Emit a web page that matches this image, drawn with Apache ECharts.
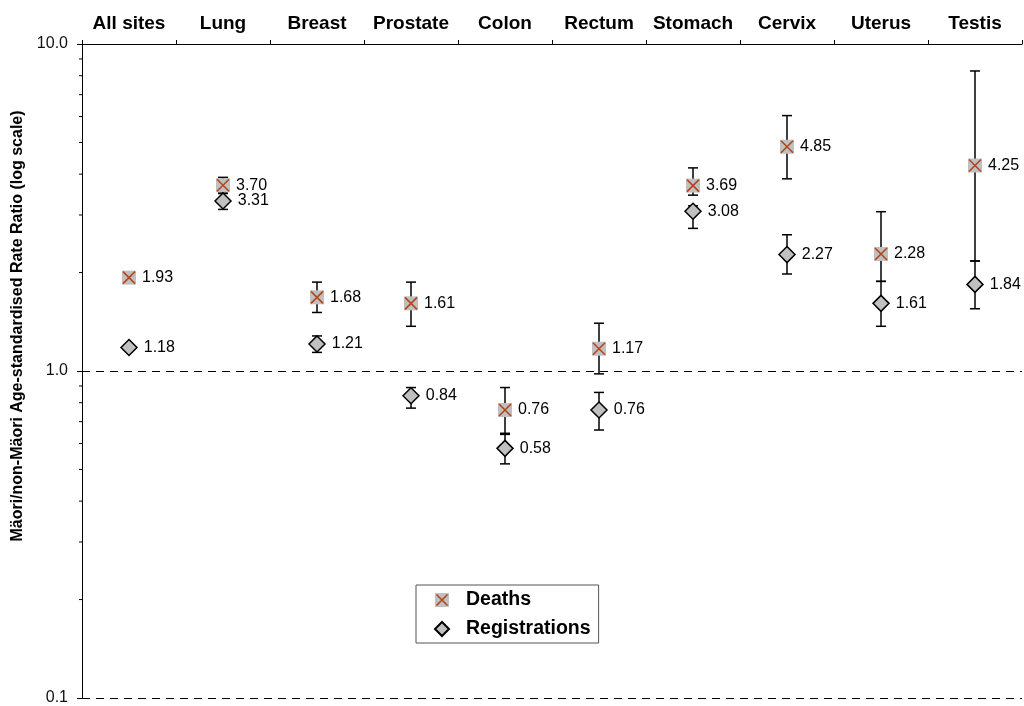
<!DOCTYPE html>
<html>
<head>
<meta charset="utf-8">
<script src="https://cdn.jsdelivr.net/npm/echarts@6/dist/echarts.min.js"></script>
<style>
  html, body { margin: 0; padding: 0; background: #fff; }
  #main { width: 1024px; height: 706px; }
</style>
</head>
<body>
<div id="main"></div>
<script>
// sites along the top axis
const categories = ['All sites', 'Lung', 'Breast', 'Prostate', 'Colon', 'Rectum', 'Stomach', 'Cervix', 'Uterus', 'Testis']
// rate ratios with 95% CI
const deaths = [1.93, 3.70, 1.68, 1.61, 0.76, 1.17, 3.69, 4.85, 2.28, 4.25]
const deathsLow = [1.89, 3.50, 1.51, 1.37, 0.645, 0.98, 3.45, 3.87, 1.88, 2.17]
const deathsHigh = [1.97, 3.91, 1.87, 1.87, 0.89, 1.40, 4.18, 6.04, 3.07, 8.27]
const regs = [1.18, 3.31, 1.21, 0.84, 0.58, 0.76, 3.08, 2.27, 1.61, 1.84]
const regsLow = [1.16, 3.12, 1.14, 0.77, 0.52, 0.66, 2.73, 1.98, 1.37, 1.55]
const regsHigh = [1.20, 3.49, 1.28, 0.89, 0.64, 0.86, 3.20, 2.61, 1.88, 2.17]
// log axis minor ticks
const minorTicks = [0.2, 0.3, 0.4, 0.5, 0.6, 0.7, 0.8, 0.9, 2, 3, 4, 5, 6, 7, 8, 9]

const font = "'Liberation Sans', Arial, sans-serif"
const grey = '#c0c0c0'
const rust = '#b4461e'

const deathsIcon = 'image://data:image/svg+xml;charset=utf-8,' + encodeURIComponent(
  '<svg xmlns="http://www.w3.org/2000/svg" width="14" height="14">' +
  '<rect width="14" height="14" fill="' + grey + '"/>' +
  '<path d="M1.5,1.5L12.5,12.5M12.5,1.5L1.5,12.5" stroke="' + rust + '" stroke-width="1.6" fill="none"/></svg>')

// vertical error bar with caps
const errorBar = (params, api) => {
  const lo = api.coord([api.value(0), api.value(1)])
  const hi = api.coord([api.value(0), api.value(2)])
  const w = 5
  const style = { stroke: '#000', lineWidth: 1.5 }
  return {
    type: 'group',
    children: [
      { type: 'line', shape: { x1: lo[0], y1: lo[1], x2: hi[0], y2: hi[1] }, style },
      { type: 'line', shape: { x1: lo[0] - w, y1: lo[1], x2: lo[0] + w, y2: lo[1] }, style },
      { type: 'line', shape: { x1: hi[0] - w, y1: hi[1], x2: hi[0] + w, y2: hi[1] }, style }
    ]
  }
}

const valueLabel = {
  show: true,
  position: 'right',
  distance: 6,
  fontFamily: font,
  fontSize: 16,
  color: '#000',
  formatter: p => p.value[1].toFixed(2)
}

const chart = echarts.init(document.getElementById('main'))
chart.setOption({
  animation: false,
  textStyle: { fontFamily: font },
  grid: { left: 82, right: 2, top: 44, bottom: 8 },
  legend: {
    orient: 'vertical',
    left: 416,
    top: 585,
    padding: [4, 8, 3, 18],
    itemGap: 7,
    itemWidth: 14,
    itemHeight: 14,
    borderColor: '#555',
    borderWidth: 1,
    textStyle: { fontFamily: font, fontSize: 19.5, fontWeight: 'bold', color: '#000', lineHeight: 22, padding: [0, 0, 0, 12] },
    data: [
      { name: 'Deaths', icon: deathsIcon },
      { name: 'Registrations', icon: 'diamond' }
    ]
  },
  xAxis: {
    type: 'category',
    position: 'top',
    data: categories,
    axisLine: { lineStyle: { color: '#000', width: 1 } },
    axisTick: { show: true, length: 4, lineStyle: { color: '#000' } },
    axisLabel: { interval: 0, hideOverlap: false, fontFamily: font, fontSize: 19, fontWeight: 'bold', color: '#000', margin: 11 },
    splitLine: { show: false }
  },
  yAxis: {
    type: 'log',
    logBase: 10,
    min: 0.1,
    max: 10,
    name: 'Mäori/non-Mäori Age-standardised Rate Ratio (log scale)',
    nameLocation: 'middle',
    nameRotate: 90,
    nameGap: 53,
    nameTextStyle: { fontFamily: font, fontSize: 16, fontWeight: 'bold', color: '#000', padding: [0, 0, 0, 90] },
    axisLine: { show: true, lineStyle: { color: '#000', width: 1 } },
    axisTick: { show: true, length: 5, lineStyle: { color: '#000' } },
    axisLabel: { fontFamily: font, fontSize: 16, color: '#111', margin: 14, formatter: v => Number(v).toFixed(1) },
    splitLine: { show: true, lineStyle: { color: '#000', type: [8, 6], width: 1 } }
  },
  series: [
    {
      type: 'custom',
      name: 'minor',
      silent: true,
      z: 1,
      data: minorTicks.map(v => [0, v]),
      renderItem: (params, api) => {
        const y = api.coord([0, api.value(1)])[1]
        const x0 = params.coordSys.x
        return { type: 'line', shape: { x1: x0 - 3, y1: y, x2: x0, y2: y }, style: { stroke: '#000', lineWidth: 1 } }
      }
    },
    {
      type: 'custom',
      name: 'deathsCI',
      silent: true,
      z: 2,
      encode: { x: 0, y: [1, 2] },
      data: categories.map((c, i) => [i, deathsLow[i], deathsHigh[i]]),
      renderItem: errorBar
    },
    {
      type: 'custom',
      name: 'regsCI',
      silent: true,
      z: 2,
      encode: { x: 0, y: [1, 2] },
      data: categories.map((c, i) => [i, regsLow[i], regsHigh[i]]),
      renderItem: errorBar
    },
    {
      type: 'scatter',
      name: 'Deaths',
      z: 3,
      symbol: 'rect',
      symbolSize: 14,
      itemStyle: { color: grey, opacity: 1 },
      label: valueLabel,
      data: deaths.map((v, i) => [i, v])
    },
    {
      type: 'scatter',
      name: 'deathsX',
      z: 4,
      silent: true,
      symbol: 'path://M0,0L10,10M10,0L0,10',
      symbolSize: 12,
      itemStyle: { color: 'rgba(0,0,0,0)', borderColor: rust, borderWidth: 1.6, opacity: 1 },
      data: deaths.map((v, i) => [i, v])
    },
    {
      type: 'scatter',
      name: 'Registrations',
      z: 3,
      symbol: 'diamond',
      symbolSize: 16,
      itemStyle: { color: grey, borderColor: '#000', borderWidth: 1.5, opacity: 1 },
      label: valueLabel,
      data: regs.map((v, i) => [i, v])
    }
  ]
})
</script>
</body>
</html>
